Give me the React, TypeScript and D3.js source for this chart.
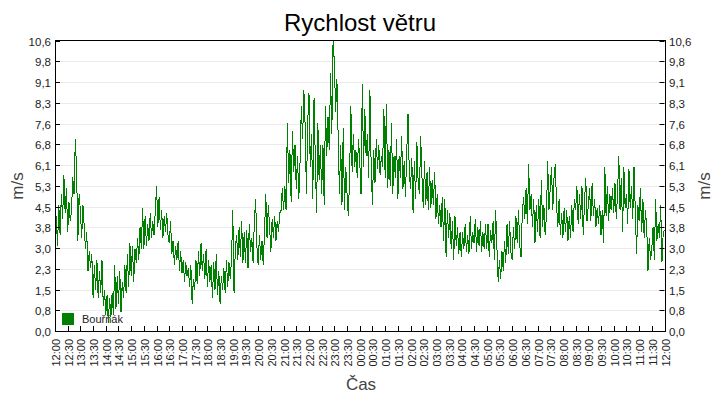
import React from "react";
import * as d3 from "d3";

const title = "Rychlost větru";
const seriesName = "Bouřňák";
const yLabel = "m/s";
const xLabel = "Čas";
const startTime = new Date(2024, 0, 1, 12, 0);
const stepMinutes = 3;
const yMax = 10.6;
const yTickCount = 14;

// wind speed (m/s), one value per 3 minutes, 12:00 -> 12:00
const speed: number[] = [
  // 12:00
  3.0, 4.2, 3.1, 4.6, 3.5, 5.0, 4.1, 5.7, 4.3, 5.2,
  // 12:30
  3.6, 4.7, 4.0, 4.4, 5.6, 5.0, 7.0, 5.9, 3.3, 5.0,
  // 13:00
  4.4, 3.4, 4.6, 3.8, 3.0, 3.6, 2.2, 2.9, 2.3, 2.8,
  // 13:30
  1.2, 2.4, 1.5, 2.6, 1.2, 2.2, 1.4, 2.6, 0.9, 1.5,
  // 14:00
  0.6, 1.3, 0.3, 1.2, 0.5, 1.4, 0.6, 2.4, 0.8, 2.0,
  // 14:30
  1.0, 2.2, 0.7, 1.8, 1.2, 2.4, 1.4, 2.8, 1.6, 3.2,
  // 15:00
  2.0, 3.1, 1.8, 3.0, 2.5, 3.4, 2.6, 3.8, 3.0, 4.5,
  // 15:30
  3.0, 4.2, 3.1, 3.9, 3.3, 4.3, 3.4, 4.0, 3.5, 4.4,
  // 16:00
  5.3, 3.8, 4.9, 3.7, 4.4, 3.4, 4.2, 3.6, 4.3, 3.5,
  // 16:30
  3.2, 4.0, 2.8, 3.3, 2.4, 3.1, 2.6, 3.3, 2.2, 2.9,
  // 17:00
  2.1, 2.6, 1.8, 2.5, 2.0, 2.3, 1.6, 2.4, 1.0, 1.9,
  // 17:30
  1.5, 2.6, 1.7, 2.9, 2.0, 3.2, 2.2, 2.8, 1.9, 3.0,
  // 18:00
  1.6, 2.6, 1.8, 2.4, 1.2, 2.5, 1.5, 2.8, 1.3, 2.2,
  // 18:30
  1.0, 2.0, 1.5, 2.3, 1.4, 2.6, 1.6, 2.5, 1.9, 2.6,
  // 19:00
  4.4, 1.4, 3.0, 3.5, 2.6, 3.8, 2.7, 4.0, 2.5, 3.6,
  // 19:30
  2.5, 3.7, 2.3, 3.9, 2.9, 3.4, 2.5, 4.0, 4.8, 3.1,
  // 20:00
  2.4, 3.5, 2.6, 3.3, 2.4, 3.6, 5.0, 3.4, 4.6, 3.8,
  // 20:30
  2.9, 4.1, 3.4, 4.2, 3.3, 4.0, 3.6, 4.3, 4.4, 5.2,
  // 21:00
  4.4, 5.3, 4.4, 7.6, 5.4, 6.6, 4.7, 7.3, 5.8, 6.8,
  // 21:30
  5.2, 6.4, 4.8, 6.2, 8.2, 7.0, 8.8, 7.5, 5.0, 7.6,
  // 22:00
  8.7, 6.0, 7.2, 4.8, 8.5, 6.3, 4.3, 7.6, 5.5, 6.8,
  // 22:30
  5.0, 6.8, 4.6, 8.2, 6.4, 7.8, 6.6, 9.4, 7.2, 10.6,
  // 23:00
  9.8, 8.0, 9.2, 7.1, 5.0, 6.8, 4.6, 7.4, 4.4, 6.0,
  // 23:30
  5.0, 4.2, 5.6, 8.2, 5.8, 7.2, 6.0, 6.6, 5.6, 7.0,
  // 00:00
  6.2, 5.0, 9.0, 6.0, 8.1, 6.4, 7.2, 5.6, 8.8, 6.0,
  // 00:30
  4.6, 6.6, 5.4, 7.0, 5.9, 6.8, 5.7, 6.4, 6.0, 8.1,
  // 01:00
  5.6, 8.3, 5.2, 6.6, 5.3, 7.6, 5.0, 6.4, 5.6, 7.0,
  // 01:30
  4.8, 6.4, 5.6, 7.1, 5.2, 6.2, 4.9, 6.5, 7.9, 5.8,
  // 02:00
  5.2, 6.3, 4.3, 6.2, 4.8, 6.9, 5.4, 5.0, 7.1, 5.6,
  // 02:30
  4.5, 6.2, 4.6, 5.8, 4.4, 6.0, 4.5, 5.5, 4.6, 5.8,
  // 03:00
  4.1, 5.0, 3.9, 4.6, 3.8, 4.9, 3.3, 4.8, 2.7, 4.4,
  // 03:30
  3.4, 4.3, 3.0, 4.0, 2.6, 4.2, 3.1, 3.8, 2.8, 3.6,
  // 04:00
  2.7, 3.6, 3.0, 3.9, 2.9, 3.5, 2.8, 4.2, 3.0, 3.6,
  // 04:30
  3.2, 4.1, 2.9, 3.8, 3.1, 4.0, 2.9, 3.6, 3.0, 3.9,
  // 05:00
  3.0, 3.9, 2.7, 3.7, 3.2, 4.0, 2.6, 4.4, 3.1, 1.8,
  // 05:30
  2.6, 1.9, 2.9, 2.2, 3.3, 2.5, 3.9, 2.8, 4.0, 2.9,
  // 06:00
  2.6, 3.8, 3.0, 4.2, 3.2, 4.4, 3.1, 2.7, 4.3, 4.9,
  // 06:30
  4.1, 5.2, 3.9, 6.1, 4.4, 5.0, 3.8, 4.8, 3.2, 4.6,
  // 07:00
  3.6, 4.8, 3.4, 5.5, 3.8, 4.6, 3.5, 4.2, 6.2, 4.4,
  // 07:30
  5.2, 6.0, 4.4, 5.6, 6.1, 4.6, 3.8, 4.8, 3.5, 4.3,
  // 08:00
  3.4, 4.5, 3.6, 4.4, 3.3, 4.2, 3.4, 4.6, 3.6, 4.8,
  // 08:30
  4.4, 5.3, 3.9, 5.0, 4.1, 5.3, 3.5, 4.7, 5.6, 4.0,
  // 09:00
  4.6, 5.2, 4.0, 5.4, 4.2, 4.8, 3.8, 4.5, 3.9, 4.6,
  // 09:30
  3.5, 4.4, 3.2, 6.0, 4.2, 5.3, 4.0, 5.0, 4.4, 5.2,
  // 10:00
  4.3, 5.4, 4.1, 5.0, 6.4, 4.4, 5.6, 3.6, 6.0, 4.5,
  // 10:30
  5.0, 3.9, 5.9, 4.5, 5.3, 4.1, 6.0, 4.4, 2.8, 4.6,
  // 11:00
  4.0, 5.2, 3.6, 4.8, 3.4, 4.4, 3.8, 2.2, 3.4, 2.6,
  // 11:30
  3.0, 3.8, 2.6, 4.8, 3.3, 3.9, 3.4, 4.6, 2.5, 3.6,
  // 12:00
  3.7,
];

const W = 720;
const H = 400;
const M = { left: 55, right: 664.5, top: 40.5, bottom: 331 };
const FONT = "'Liberation Sans', Arial, sans-serif";

export default function App() {
  const endTime = new Date(startTime.getTime() + (speed.length - 1) * stepMinutes * 60000);
  const x = d3.scaleTime().domain([startTime, endTime]).range([M.left, M.right]);
  const y = d3.scaleLinear().domain([0, yMax]).range([M.bottom, M.top]);

  const points: [Date, number][] = speed.map((v, i) => [
    new Date(startTime.getTime() + i * stepMinutes * 60000),
    v,
  ]);
  const line = d3
    .line<[Date, number]>()
    .x((d) => x(d[0]))
    .y((d) => y(d[1]));

  const yTicks = d3.range(0, yTickCount + 1).map((i) => (i * yMax) / yTickCount);
  const fmtY = (v: number) => d3.format(".1f")(v).replace(".", ",");
  const xTicks = d3.timeMinute.every(30)!.range(startTime, new Date(endTime.getTime() + 1));
  const fmtX = d3.timeFormat("%H:%M");

  return (
    <svg
      width={W}
      height={H}
      style={{ position: "absolute", left: 0, top: 0, display: "block", background: "#fff" }}
      fontFamily={FONT}
    >
      <text x={360} y={31} textAnchor="middle" fontSize={24} fill="#000">
        {title}
      </text>

      {/* gridlines */}
      {yTicks.slice(1, -1).map((t, i) => (
        <line
          key={"g" + i}
          x1={M.left}
          x2={M.right}
          y1={Math.round(y(t)) + 0.5}
          y2={Math.round(y(t)) + 0.5}
          stroke="#ebebeb"
          strokeWidth={1}
        />
      ))}

      {/* legend (under the line) */}
      <rect x={62} y={313} width={12} height={12} fill="#008000" />
      <text x={82} y={323} fontSize={11} fill="#222">
        {seriesName}
      </text>

      {/* series */}
      <path
        d={line(points) || ""}
        fill="none"
        stroke="#008000"
        strokeWidth={1}
        shapeRendering="crispEdges"
      />

      {/* frame */}
      <rect
        x={M.left + 0.5}
        y={M.top}
        width={M.right - M.left}
        height={M.bottom - M.top}
        fill="none"
        stroke="#000"
        strokeWidth={1}
        shapeRendering="crispEdges"
      />

      {/* y ticks inside both sides */}
      {yTicks.map((t, i) => {
        const yy = Math.round(y(t)) + 0.5;
        return (
          <g key={"yt" + i}>
            <line x1={M.left} x2={M.left + 5} y1={yy} y2={yy} stroke="#000" />
            <line x1={M.right - 5} x2={M.right} y1={yy} y2={yy} stroke="#000" />
            <text x={51} y={yy + 4} textAnchor="end" fontSize={11.5} fill="#222">
              {fmtY(t)}
            </text>
            <text x={669} y={yy + 4} textAnchor="start" fontSize={11.5} fill="#222">
              {fmtY(t)}
            </text>
          </g>
        );
      })}

      {/* x ticks */}
      {xTicks.map((t, i) => {
        const xx = Math.round(x(t)) + 0.5;
        return (
          <g key={"xt" + i}>
            <line x1={xx} x2={xx} y1={M.bottom - 5} y2={M.bottom} stroke="#000" />
            <text
              transform={`translate(${xx + 4},${M.bottom + 8}) rotate(-90)`}
              textAnchor="end"
              fontSize={11}
              fill="#222"
            >
              {fmtX(t)}
            </text>
          </g>
        );
      })}

      {/* axis titles */}
      <text transform="translate(23,186) rotate(-90)" textAnchor="middle" fontSize={17} fill="#444">
        {yLabel}
      </text>
      <text transform="translate(710,186) rotate(-90)" textAnchor="middle" fontSize={17} fill="#444">
        {yLabel}
      </text>
      <text x={361} y={390} textAnchor="middle" fontSize={17} fill="#444">
        {xLabel}
      </text>
    </svg>
  );
}
